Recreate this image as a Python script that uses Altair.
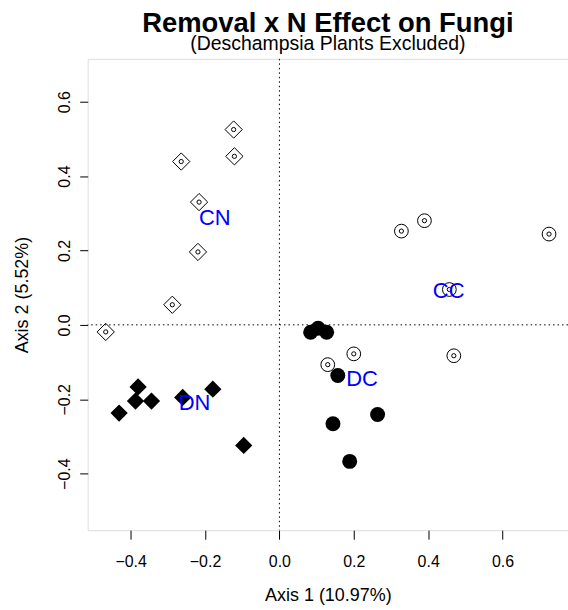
import altair as alt
import pandas as pd

# --- data ---
cn_x = [-0.123, -0.121, -0.264, -0.216, -0.219, -0.288, -0.467]
cn_y = [0.525, 0.453, 0.439, 0.330, 0.196, 0.054, -0.019]
dn_x = [-0.380, -0.387, -0.344, -0.431, -0.260, -0.179, -0.096]
dn_y = [-0.167, -0.205, -0.205, -0.237, -0.195, -0.173, -0.324]
dc_x = [0.084, 0.104, 0.127, 0.157, 0.264, 0.144, 0.189]
dc_y = [-0.020, -0.009, -0.020, -0.136, -0.241, -0.266, -0.367]
cc_x = [0.328, 0.390, 0.725, 0.457, 0.200, 0.469, 0.130]
cc_y = [0.252, 0.280, 0.244, 0.095, -0.078, -0.083, -0.107]

label_text = ["CN", "DN", "DC", "CC"]
label_x = [-0.174, -0.228, 0.222, 0.455]
label_y = [0.288, -0.210, -0.146, 0.092]

tick_values = [-0.4, -0.2, 0.0, 0.2, 0.4, 0.6]
x_domain = [-0.5155, 0.776]
y_domain = [-0.552, 0.715]

FONT = "Liberation Sans"

rows = []
for g, xs_, ys_ in [("CN", cn_x, cn_y), ("DN", dn_x, dn_y), ("DC", dc_x, dc_y), ("CC", cc_x, cc_y)]:
    for a, b in zip(xs_, ys_):
        rows.append({"group": g, "x": a, "y": b})
pts = pd.DataFrame(rows)
labels = pd.DataFrame({"label": label_text, "x": label_x, "y": label_y})
zero = pd.DataFrame({"v": [0.0]})

xscale = alt.Scale(domain=x_domain, nice=False, zero=False)
yscale = alt.Scale(domain=y_domain, nice=False, zero=False)

xaxis = alt.Axis(
    values=tick_values, format=".1f", grid=False, domain=False,
    tickSize=9, tickColor="black", labelColor="black", labelFont=FONT,
    labelFontSize=16, labelPadding=14, labelFlush=False,
    title="Axis 1 (10.97%)", titleFont=FONT, titleFontSize=18,
    titleFontWeight="normal", titleColor="black",
    titleBaseline="alphabetic", titleY=71,
)
yaxis = alt.Axis(
    values=tick_values, format=".1f", grid=False, domain=False,
    tickSize=8, tickColor="black", labelColor="black", labelFont=FONT,
    labelFontSize=16, labelPadding=10, labelAngle=270, labelAlign="center",
    labelBaseline="alphabetic", labelFlush=False,
    title="Axis 2 (5.52%)", titleFont=FONT, titleFontSize=18,
    titleFontWeight="normal", titleColor="black", titleAngle=270,
    titleBaseline="alphabetic", titleX=-60,
)

base = alt.Chart(pts).encode(
    x=alt.X("x:Q", scale=xscale, axis=xaxis),
    y=alt.Y("y:Q", scale=yscale, axis=yaxis),
)

vline = alt.Chart(zero).mark_rule(color="black", strokeDash=[1.5, 3], strokeWidth=1).encode(
    x=alt.X("v:Q", scale=xscale, axis=xaxis)
)
hline = alt.Chart(zero).mark_rule(color="black", strokeDash=[1.5, 3], strokeWidth=1).encode(
    y=alt.Y("v:Q", scale=yscale, axis=yaxis)
)

cn = base.transform_filter(alt.datum.group == "CN").mark_point(
    shape="diamond", filled=False, color="black", size=300, strokeWidth=1, opacity=1)
cn_in = base.transform_filter(alt.datum.group == "CN").mark_point(
    shape="circle", filled=False, color="black", size=18, strokeWidth=1, opacity=1)
dn = base.transform_filter(alt.datum.group == "DN").mark_point(
    shape="diamond", filled=True, color="black", size=300, opacity=1)
dc = base.transform_filter(alt.datum.group == "DC").mark_point(
    shape="circle", filled=True, color="black", size=225, opacity=1)
cc = base.transform_filter(alt.datum.group == "CC").mark_point(
    shape="circle", filled=False, color="black", size=190, strokeWidth=1, opacity=1)
cc_in = base.transform_filter(alt.datum.group == "CC").mark_point(
    shape="circle", filled=False, color="black", size=18, strokeWidth=1, opacity=1)

txt = alt.Chart(labels).mark_text(
    font=FONT, fontSize=22, color="#0000FF", align="center", baseline="middle"
).encode(
    x=alt.X("x:Q", scale=xscale, axis=xaxis),
    y=alt.Y("y:Q", scale=yscale, axis=yaxis),
    text="label:N",
)

chart = alt.layer(vline, hline, cn, cn_in, dn, dc, cc, cc_in, txt).properties(
    width=482,
    height=473,
    title=alt.TitleParams(
        text="Removal x N Effect on Fungi",
        subtitle="(Deschampsia Plants Excluded)",
        font=FONT, fontSize=27.5, fontWeight="bold", color="black",
        subtitleFont=FONT, subtitleFontSize=19.5, subtitleColor="black",
        subtitlePadding=-3, anchor="middle", frame="group", offset=5,
    ),
    autosize=alt.AutoSizeParams(type="none"),
    padding={"left": 88, "top": 58, "right": 0, "bottom": 79},
).configure_view(stroke="black", strokeWidth=1).configure(background="white")

chart.save("out.html", embed_options={"renderer": "svg", "actions": False})
